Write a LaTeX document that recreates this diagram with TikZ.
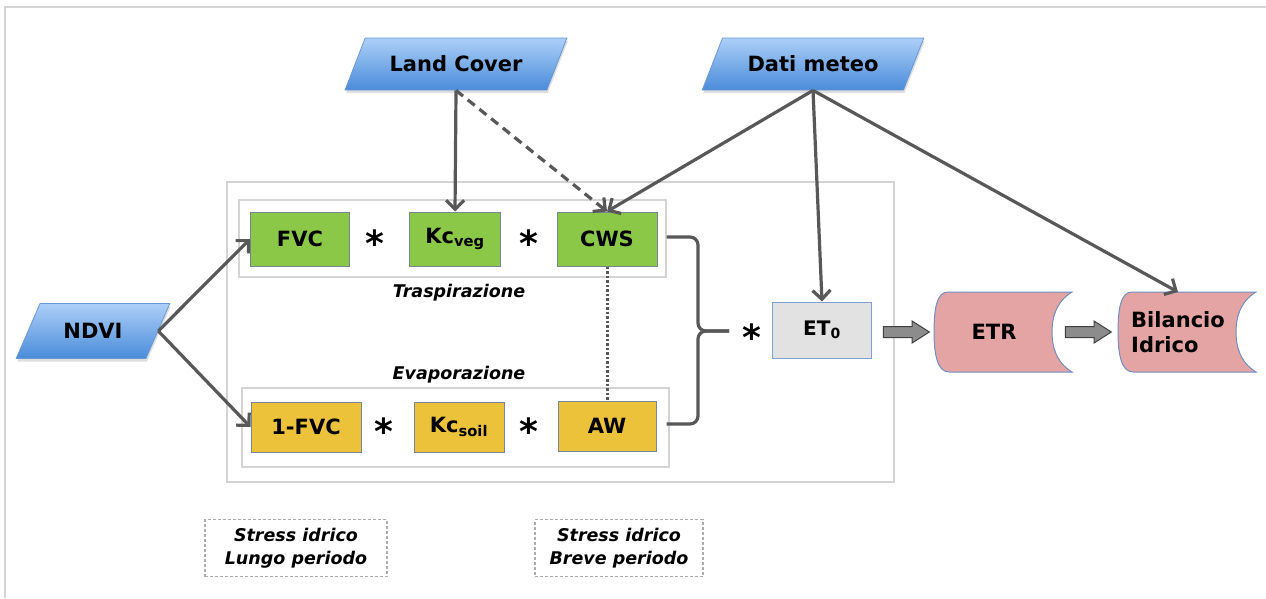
\documentclass[tikz,border=0pt]{standalone}
\usepackage{fontspec}
\setmainfont{DejaVu Sans}
\usepackage{xcolor}
\definecolor{colorInputTop}{RGB}{172,207,247}
\definecolor{colorInputBottom}{RGB}{74,140,218}
\definecolor{colorInputLine}{RGB}{105,152,214}
\definecolor{colorVeg}{RGB}{140,200,72}
\definecolor{colorSoil}{RGB}{236,194,58}
\definecolor{colorBoxLine}{RGB}{118,134,150}
\definecolor{colorEto}{RGB}{226,226,226}
\definecolor{colorEtoLine}{RGB}{125,160,205}
\definecolor{colorOut}{RGB}{228,164,164}
\definecolor{colorOutLine}{RGB}{112,142,196}
\definecolor{colorConn}{RGB}{88,88,88}
\definecolor{colorFrame}{RGB}{212,212,212}
\definecolor{colorBlock}{RGB}{140,140,140}
\usetikzlibrary{arrows.meta, positioning, shapes.geometric, shapes.arrows, shadows, calc, backgrounds}

\tikzset{
  input/.style={trapezium, trapezium left angle=56, trapezium right angle=124, trapezium stretches=true,
    minimum width=222pt, minimum height=52pt, top color=colorInputTop, bottom color=colorInputBottom,
    draw=colorInputLine, line width=0.8pt, font=\fontsize{21}{24}\selectfont\bfseries,
    drop shadow={opacity=0.25, shadow xshift=1pt, shadow yshift=-3pt}},
  veg/.style={rectangle, draw=colorBoxLine, fill=colorVeg, line width=1pt, minimum height=54pt,
    font=\fontsize{21}{24}\selectfont\bfseries},
  soil/.style={veg, fill=colorSoil, minimum height=50pt},
  eto/.style={rectangle, fill=colorEto, draw=colorEtoLine, line width=1pt, minimum width=99pt,
    minimum height=56pt, font=\fontsize{20}{24}\selectfont\bfseries},
  store/.style={font=\fontsize{21}{25}\selectfont\bfseries, inner sep=0pt},
  times/.style={font=\fontsize{36}{36}\selectfont\bfseries, inner sep=0pt},
  group/.style={draw=colorFrame, line width=1.6pt, inner sep=0pt},
  caption/.style={font=\fontsize{17.5}{21}\selectfont\bfseries\itshape},
  note/.style={draw=gray!65, dash pattern=on 3pt off 2pt, line width=1.1pt, minimum height=57pt,
    align=center, font=\fontsize{17.5}{23}\selectfont\bfseries\itshape},
  conn/.style={->, draw=colorConn, line width=3.2pt},
  blockarrow/.style={single arrow, draw=black!75, fill=colorBlock, line width=1pt, inner sep=5pt,
    minimum height=46pt, single arrow head extend=5.5pt, single arrow tip angle=65},
}
\newcommand{\storeshape}[1]{%
  \filldraw[fill=colorOut, draw=colorOutLine, line width=1pt]
    ($(#1)+(-46pt,40pt)$) -- ($(#1)+(78pt,40pt)$)
    .. controls ($(#1)+(66pt,33pt)$) and ($(#1)+(58pt,20pt)$) .. ($(#1)+(58pt,0pt)$)
    .. controls ($(#1)+(58pt,-20pt)$) and ($(#1)+(66pt,-33pt)$) .. ($(#1)+(78pt,-40pt)$)
    -- ($(#1)+(-45pt,-40pt)$)
    .. controls ($(#1)+(-56pt,-40pt)$) and ($(#1)+(-60pt,-24pt)$) .. ($(#1)+(-60pt,0pt)$)
    .. controls ($(#1)+(-60pt,24pt)$) and ($(#1)+(-57pt,40pt)$) .. cycle;}

\begin{document}
\begin{tikzpicture}[x=1pt, y=-1pt, >={Straight Barb[length=9pt,width=18pt]}]
\useasboundingbox (0,0) rectangle (1266,598);
\draw[colorFrame, line width=1.5pt] (5,598) -- (5,7) -- (1266,7);

\node[group, minimum width=667pt, minimum height=300pt] (outer) at (560.5,332) {};
\node[group, minimum width=427pt, minimum height=77pt] (trasp) at (452.5,238.5) {};
\node[group, minimum width=427pt, minimum height=79pt] (evap) at (455.5,427.5) {};
\node[caption] (lbtrasp) at (459,293) {Traspirazione};
\node[caption] (lbevap) at (459,375) {Evaporazione};

\node[input] (lc) at (456,64) {Land Cover};
\node[input] (dm) at (813,64) {Dati meteo};
\node[input, minimum width=155pt, minimum height=55pt] (ndvi) at (93,331) {NDVI};

\node[veg, minimum width=99pt] (fvc) at (300,239) {FVC};
\node[veg, minimum width=91pt] (kcveg) at (455,239) {Kc\textsubscript{veg}};
\node[veg, minimum width=100pt] (cws) at (607,239) {CWS};
\node[soil, minimum width=110pt] (ofvc) at (306,427) {1-FVC};
\node[soil, minimum width=90pt] (kcsoil) at (459,427) {Kc\textsubscript{soil}};
\node[soil, minimum width=98pt] (aw) at (607,426) {AW};
\node[times] (t1) at (375,243) {*};
\node[times] (t2) at (529,243) {*};
\node[times] (t3) at (384,431) {*};
\node[times] (t4) at (529,431) {*};
\node[times] (t5) at (752,337) {*};

\node[eto] (eto) at (822,330) {ET\textsubscript{0}};
\node[store] (etr) at (994,332) {ETR};
\node[store, align=left] (bil) at (1178,332) {Bilancio\\Idrico};
\coordinate (biltop) at ($(bil.center)+(0pt,40pt)$);
\begin{pgfonlayer}{background}
\storeshape{etr}
\storeshape{bil}
\end{pgfonlayer}
\node[blockarrow] (ba1) at (902,332) {};
\node[blockarrow] (ba2) at (1084,332) {};

\node[note, minimum width=182pt] (lungo) at (296,548) {Stress idrico\\Lungo periodo};
\node[note, minimum width=168pt] (breve) at (619,548) {Stress idrico\\Breve periodo};

\draw[conn] (lc.south) -- (kcveg.north);
\draw[conn, dash pattern=on 9pt off 6pt] (lc.south) -- (cws.north);
\draw[conn] (dm.south) -- (cws.north);
\draw[conn] (dm.south) -- (eto.north);
\draw[conn] (dm.south) -- (biltop);
\draw[conn] (ndvi.east) -- (fvc.west);
\draw[conn] (ndvi.east) -- (ofvc.west);
\draw[colorConn, line width=3pt, dash pattern=on 2.5pt off 2pt] (cws.south) -- (aw.north);
\coordinate (tip) at (729,331);
\draw[colorConn, line width=3.2pt, rounded corners=8pt] ($(cws.east)+(9pt,2pt)$) -| ($(tip)+(-31pt,0pt)$) -- (tip);
\draw[colorConn, line width=3.2pt, rounded corners=8pt] ($(aw.east)+(10pt,2pt)$) -| ($(tip)+(-31pt,0pt)$) -- (tip);
\end{tikzpicture}
\end{document}
